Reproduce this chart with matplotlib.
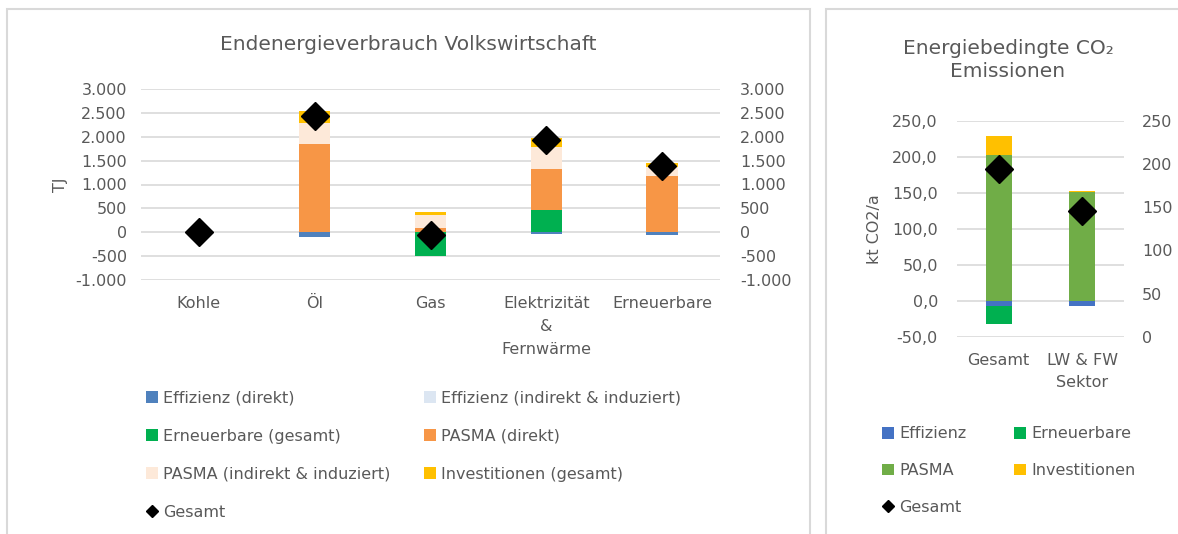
import matplotlib
matplotlib.use("Agg")
import matplotlib.pyplot as plt
import numpy as np
from matplotlib.patches import Rectangle, Patch
from matplotlib.lines import Line2D
from matplotlib.ticker import FixedLocator, FuncFormatter

# ---------------- data ----------------
left_categories = ["Kohle", "Öl", "Gas", "Elektrizität\n&\nFernwärme", "Erneuerbare"]
left_series_names = ["Effizienz (direkt)", "Effizienz (indirekt & induziert)",
                     "Erneuerbare (gesamt)", "PASMA (direkt)",
                     "PASMA (indirekt & induziert)", "Investitionen (gesamt)"]
eff_direkt = [0, -100, 0, -30, -55]
eff_indirekt = [0, -5, 0, -5, -5]
erneuerbare = [0, 0, -490, 475, 0]
pasma_direkt = [0, 1840, 98, 846, 1168]
pasma_indirekt = [0, 455, 265, 462, 203]
investitionen = [10, 238, 70, 189, 84]
left_gesamt = [10, 2428, -57, 1937, 1395]
left_ticks = [-1000, -500, 0, 500, 1000, 1500, 2000, 2500, 3000]

right_categories = ["Gesamt", "LW & FW\nSektor"]
right_series_names = ["Effizienz", "Erneuerbare", "PASMA", "Investitionen"]
r_effizienz = [-8, -7]
r_erneuerbare = [-24.5, 0]
r_pasma = [203, 151.5]
r_investitionen = [25.4, 1.4]
right_gesamt = [194, 146]
right_ticks_left = [-50, 0, 50, 100, 150, 200, 250]
right_ticks_right = [0, 50, 100, 150, 200, 250]

left_colors = ["#4f81bd", "#dce6f2", "#00b050", "#f79646", "#fde9d9", "#ffc000"]
right_colors = ["#4472c4", "#00b050", "#70ad47", "#ffc000"]

TXT = "#595959"
GRID = "#d9d9d9"
plt.rcParams["font.family"] = ["DejaVu Sans"]

W, H = 1178, 534
fig = plt.figure(figsize=(W / 100, H / 100), dpi=100)


def fx(px):
    return px / W


def fy(py):
    return 1 - py / H


def pt(px):
    return px * 0.72


# panel borders
for x0, x1 in [(7, 810), (826, 1185)]:
    fig.patches.append(Rectangle((fx(x0), fy(540)), fx(x1 - x0), fy(9) - fy(540),
                                 transform=fig.transFigure, fill=False,
                                 edgecolor=GRID, linewidth=1.5))


def thousands(v, pos=None):
    return f"{int(round(v)):,}".replace(",", ".")


def comma1(v, pos=None):
    return f"{v:.1f}".replace(".", ",")


def stack(ax, x, series, colors, width):
    pos_bottom = np.zeros(len(x))
    neg_bottom = np.zeros(len(x))
    for vals, c in zip(series, colors):
        vals = np.array(vals, dtype=float)
        bottoms = np.where(vals >= 0, pos_bottom, neg_bottom)
        ax.bar(x, vals, width=width, bottom=bottoms, color=c, zorder=3, linewidth=0)
        pos_bottom = pos_bottom + np.where(vals >= 0, vals, 0)
        neg_bottom = neg_bottom + np.where(vals < 0, vals, 0)


def style(ax):
    for s in ax.spines.values():
        s.set_visible(False)
    ax.tick_params(length=0, colors=TXT, labelsize=11.5)


# ---------------- left chart ----------------
axL = fig.add_axes([fx(141), fy(280), fx(720 - 141), fy(89) - fy(280)])
xL = np.arange(len(left_categories))
stack(axL, xL, [eff_direkt, eff_indirekt, erneuerbare, pasma_direkt,
                pasma_indirekt, investitionen], left_colors, 0.27)
axL.set_ylim(-1000, 3000)
axL.set_xlim(-0.5, len(left_categories) - 0.5)
axL.yaxis.set_major_locator(FixedLocator(left_ticks))
axL.yaxis.set_major_formatter(FuncFormatter(thousands))
axL.set_xticks(xL)
axL.set_xticklabels(left_categories, linespacing=1.65)
axL.grid(axis="y", color=GRID, linewidth=1.2, zorder=0)
axL.set_axisbelow(True)
style(axL)
axL.tick_params(axis="y", pad=pt(14))
axL.tick_params(axis="x", pad=pt(16))
axL.set_ylabel("TJ", color=TXT, fontsize=11.5, labelpad=pt(8))

axL2 = axL.twinx()
axL2.set_ylim(-1000, 3000)
axL2.yaxis.set_major_locator(FixedLocator(left_ticks))
axL2.yaxis.set_major_formatter(FuncFormatter(thousands))
style(axL2)
axL2.tick_params(axis="y", pad=pt(20))
axL2.plot(xL, left_gesamt, linestyle="none", marker="D", markersize=14,
          color="black", zorder=5)

fig.text(fx(408), fy(45), "Endenergieverbrauch Volkswirtschaft", ha="center",
         va="center", color=TXT, fontsize=14.5)

handlesL = [Patch(facecolor=c, edgecolor="none") for c in left_colors]
handlesL.append(Line2D([], [], linestyle="none", marker="D", markersize=6, color="black"))
labelsL = left_series_names + ["Gesamt"]
order = [0, 2, 4, 6, 1, 3, 5]
fig.legend([handlesL[i] for i in order], [labelsL[i] for i in order],
           loc="upper left", bbox_to_anchor=(fx(140), fy(384)), ncol=2,
           frameon=False, fontsize=11.5, labelcolor=TXT, handlelength=0.75,
           handleheight=0.75, handletextpad=0.3, columnspacing=2.1,
           labelspacing=1.45, borderaxespad=0)

# ---------------- right chart ----------------
axR = fig.add_axes([fx(957), fy(336.7), fx(1124 - 957), fy(120.7) - fy(336.7)])
xR = np.arange(len(right_categories))
stack(axR, xR, [r_effizienz, r_erneuerbare, r_pasma, r_investitionen],
      right_colors, 0.31)
axR.set_ylim(-50, 250)
axR.set_xlim(-0.5, len(right_categories) - 0.5)
axR.yaxis.set_major_locator(FixedLocator(right_ticks_left))
axR.yaxis.set_major_formatter(FuncFormatter(comma1))
axR.set_xticks(xR)
axR.set_xticklabels(right_categories, linespacing=1.6)
axR.grid(axis="y", color=GRID, linewidth=1.2, zorder=0)
axR.set_axisbelow(True)
style(axR)
axR.tick_params(axis="y", pad=pt(19))
axR.tick_params(axis="x", pad=pt(16))
axR.set_ylabel("kt CO2/a", color=TXT, fontsize=11.5, labelpad=pt(10))

axR2 = axR.twinx()
axR2.set_ylim(0, 250)
axR2.yaxis.set_major_locator(FixedLocator(right_ticks_right))
axR2.yaxis.set_major_formatter(FuncFormatter(lambda v, p: f"{int(v)}"))
style(axR2)
axR2.tick_params(axis="y", pad=pt(18))
axR2.plot(xR, right_gesamt, linestyle="none", marker="D", markersize=14,
          color="black", zorder=5)

fig.text(fx(1008), fy(60), "Energiebedingte CO₂\nEmissionen", ha="center",
         va="center", color=TXT, fontsize=14.5, linespacing=1.3)

handlesR = [Patch(facecolor=c, edgecolor="none") for c in right_colors]
handlesR.append(Line2D([], [], linestyle="none", marker="D", markersize=6, color="black"))
labelsR = right_series_names + ["Gesamt"]
orderR = [0, 2, 4, 1, 3]
fig.legend([handlesR[i] for i in orderR], [labelsR[i] for i in orderR],
           loc="upper left", bbox_to_anchor=(fx(876), fy(420)), ncol=2,
           frameon=False, fontsize=11.5, labelcolor=TXT, handlelength=0.75,
           handleheight=0.75, handletextpad=0.3, columnspacing=3.0,
           labelspacing=1.35, borderaxespad=0)

fig.savefig("out.png", dpi=100)
